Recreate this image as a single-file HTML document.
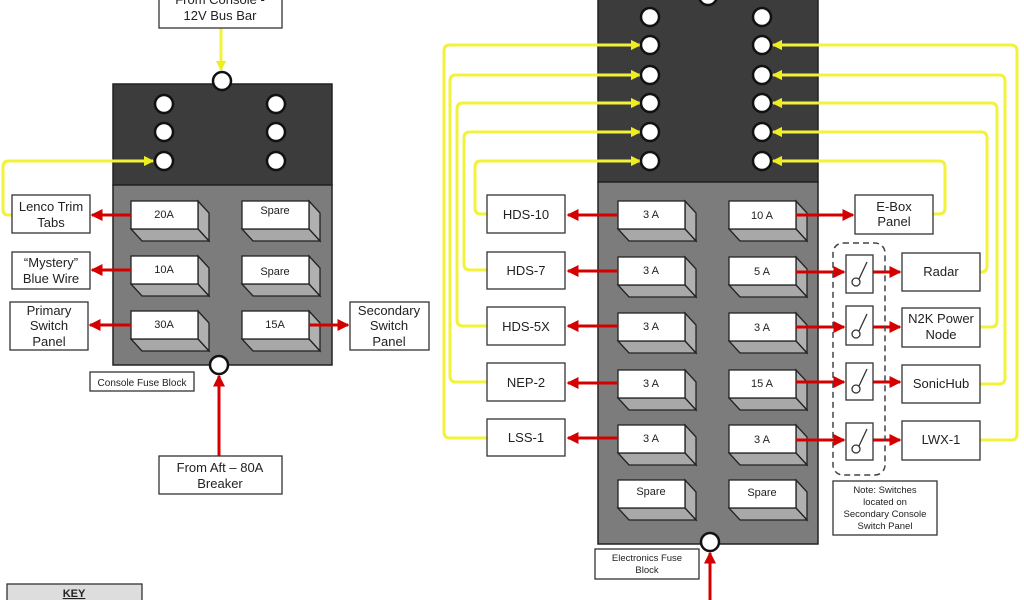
<!DOCTYPE html>
<html><head><meta charset="utf-8"><style>
html,body{margin:0;padding:0;background:#fff;}
svg{display:block;}
text{font-family:"Liberation Sans",Arial,sans-serif;fill:#222;}
</style></head><body>
<svg width="1024" height="600" viewBox="0 0 1024 600" xmlns="http://www.w3.org/2000/svg">
<defs>
<marker id="ra" markerWidth="4" markerHeight="4" refX="3.5" refY="2" orient="auto" markerUnits="strokeWidth"><path d="M0,0 L4,2 L0,4 z" fill="#d40000"/></marker>
<marker id="ya" markerWidth="3.4" markerHeight="3.4" refX="3" refY="1.7" orient="auto" markerUnits="strokeWidth"><path d="M0,0 L3.4,1.7 L0,3.4 z" fill="#eeee20"/></marker>
<g id="fuse"><polygon points="67,0 78,12 78,40 67,28" fill="#b0b0b0" stroke="#222" stroke-width="1.3"/><polygon points="0,28 67,28 78,40 11,40" fill="#a8a8a8" stroke="#222" stroke-width="1.3"/><rect x="0" y="0" width="67" height="28" fill="#fff" stroke="#222" stroke-width="1.3"/></g>
</defs>
<!-- panels -->
<rect x="113" y="84" width="219" height="101" fill="#3c3c3c" stroke="#222" stroke-width="1.5"/>
<rect x="113" y="185" width="219" height="180" fill="#7c7c7c" stroke="#222" stroke-width="1.5"/>
<rect x="598" y="-5" width="220" height="187" fill="#3c3c3c" stroke="#222" stroke-width="1.5"/>
<rect x="598" y="182" width="220" height="362" fill="#7c7c7c" stroke="#222" stroke-width="1.5"/>
<g stroke="#f2f23a" stroke-width="3" fill="none">
<path d="M221,28 V70" marker-end="url(#ya)"/>
<path d="M12,215 H8 Q3,215 3,209 V167 Q3,161 9,161 H153" marker-end="url(#ya)"/>
<path d="M487,438 H450 Q444,438 444,432 V51 Q444,45 450,45 H640" marker-end="url(#ya)"/>
<path d="M487,382 H456 Q450,382 450,376 V81 Q450,75 456,75 H640" marker-end="url(#ya)"/>
<path d="M487,326 H463 Q457,326 457,320 V109 Q457,103 463,103 H640" marker-end="url(#ya)"/>
<path d="M487,270 H470 Q464,270 464,264 V138 Q464,132 470,132 H640" marker-end="url(#ya)"/>
<path d="M487,214 H481 Q475,214 475,208 V167 Q475,161 481,161 H640" marker-end="url(#ya)"/>
<path d="M933,214 H939 Q945,214 945,208 V167 Q945,161 939,161 H773" marker-end="url(#ya)"/>
<path d="M980,272 H981 Q987,272 987,266 V138 Q987,132 981,132 H773" marker-end="url(#ya)"/>
<path d="M980,327 H991 Q997,327 997,321 V109 Q997,103 991,103 H773" marker-end="url(#ya)"/>
<path d="M980,384 H999 Q1005,384 1005,378 V81 Q1005,75 999,75 H773" marker-end="url(#ya)"/>
<path d="M980,440 H1011 Q1017,440 1017,434 V51 Q1017,45 1011,45 H773" marker-end="url(#ya)"/>
</g>
<!-- LEFT BLOCK -->
<g fill="#fff" stroke="#111" stroke-width="2.5">
<circle cx="164" cy="104" r="9"/><circle cx="164" cy="132" r="9"/><circle cx="164" cy="161" r="9"/>
<circle cx="276" cy="104" r="9"/><circle cx="276" cy="132" r="9"/><circle cx="276" cy="161" r="9"/>
<circle cx="222" cy="81" r="9"/><circle cx="219" cy="365" r="9"/>
</g>
<use href="#fuse" x="131" y="201"/><use href="#fuse" x="131" y="256"/><use href="#fuse" x="131" y="311"/>
<use href="#fuse" x="242" y="201"/><use href="#fuse" x="242" y="256"/><use href="#fuse" x="242" y="311"/>
<g font-size="11" text-anchor="middle">
<text x="164" y="218">20A</text><text x="164" y="273">10A</text><text x="164" y="328">30A</text>
<text x="275" y="214">Spare</text><text x="275" y="275">Spare</text><text x="275" y="328">15A</text>
</g>
<g stroke="#d40000" stroke-width="3" fill="none">
<path d="M131,215 H92" marker-end="url(#ra)"/>
<path d="M131,270 H92" marker-end="url(#ra)"/>
<path d="M131,325 H90" marker-end="url(#ra)"/>
<path d="M309,325 H348" marker-end="url(#ra)"/>
<path d="M219,456 V376" marker-end="url(#ra)"/>
</g>
<g fill="#fff" stroke="#333" stroke-width="1.3">
<rect x="159" y="-10" width="123" height="38"/>
<rect x="12" y="195" width="78" height="38"/>
<rect x="12" y="252" width="78" height="37"/>
<rect x="10" y="302" width="78" height="48"/>
<rect x="350" y="302" width="79" height="48"/>
<rect x="90" y="372" width="104" height="19"/>
<rect x="159" y="456" width="123" height="38"/>
<rect x="7" y="584" width="135" height="20" fill="#ddd"/>
</g>
<g font-size="13" text-anchor="middle">
<text x="220" y="4">From Console -</text><text x="220" y="20">12V Bus Bar</text>
<text x="51" y="211">Lenco Trim</text><text x="51" y="227">Tabs</text>
<text x="51" y="267">“Mystery”</text><text x="51" y="283">Blue Wire</text>
<text x="49" y="315">Primary</text><text x="49" y="330">Switch</text><text x="49" y="346">Panel</text>
<text x="389" y="315">Secondary</text><text x="389" y="330">Switch</text><text x="389" y="346">Panel</text>
<text x="220" y="472">From Aft – 80A</text><text x="220" y="488">Breaker</text>
<text x="142" y="386" font-size="10">Console Fuse Block</text>
<text x="74" y="597" font-size="11" font-weight="bold" text-decoration="underline">KEY</text>
</g>
<!-- RIGHT BLOCK -->
<g fill="#fff" stroke="#111" stroke-width="2.5">
<circle cx="650" cy="17" r="9"/><circle cx="650" cy="45" r="9"/><circle cx="650" cy="75" r="9"/><circle cx="650" cy="103" r="9"/><circle cx="650" cy="132" r="9"/><circle cx="650" cy="161" r="9"/>
<circle cx="762" cy="17" r="9"/><circle cx="762" cy="45" r="9"/><circle cx="762" cy="75" r="9"/><circle cx="762" cy="103" r="9"/><circle cx="762" cy="132" r="9"/><circle cx="762" cy="161" r="9"/>
<circle cx="708" cy="-4" r="9"/><circle cx="710" cy="542" r="9"/>
</g>
<use href="#fuse" x="618" y="201"/><use href="#fuse" x="618" y="257"/><use href="#fuse" x="618" y="313"/><use href="#fuse" x="618" y="370"/><use href="#fuse" x="618" y="425"/><use href="#fuse" x="618" y="480"/>
<use href="#fuse" x="729" y="201"/><use href="#fuse" x="729" y="257"/><use href="#fuse" x="729" y="313"/><use href="#fuse" x="729" y="370"/><use href="#fuse" x="729" y="425"/><use href="#fuse" x="729" y="480"/>
<g font-size="11" text-anchor="middle">
<text x="651" y="218">3 A</text><text x="651" y="274">3 A</text><text x="651" y="330">3 A</text><text x="651" y="387">3 A</text><text x="651" y="442">3 A</text><text x="651" y="495">Spare</text>
<text x="762" y="219">10 A</text><text x="762" y="275">5 A</text><text x="762" y="331">3 A</text><text x="762" y="387">15 A</text><text x="762" y="443">3 A</text><text x="762" y="496">Spare</text>
</g>
<g stroke="#d40000" stroke-width="3" fill="none">
<path d="M618,215 H568" marker-end="url(#ra)"/>
<path d="M618,271 H568" marker-end="url(#ra)"/>
<path d="M618,326 H568" marker-end="url(#ra)"/>
<path d="M618,383 H568" marker-end="url(#ra)"/>
<path d="M618,438 H568" marker-end="url(#ra)"/>
<path d="M796,215 H853" marker-end="url(#ra)"/>
<path d="M796,272 H844" marker-end="url(#ra)"/><path d="M873,272 H900" marker-end="url(#ra)"/>
<path d="M796,327 H844" marker-end="url(#ra)"/><path d="M873,327 H900" marker-end="url(#ra)"/>
<path d="M796,382 H844" marker-end="url(#ra)"/><path d="M873,382 H900" marker-end="url(#ra)"/>
<path d="M796,440 H844" marker-end="url(#ra)"/><path d="M873,440 H900" marker-end="url(#ra)"/>
<path d="M710,600 V553" marker-end="url(#ra)"/>
</g>
<rect x="833" y="243" width="52" height="232" rx="10" fill="none" stroke="#444" stroke-width="1.5" stroke-dasharray="6,4"/>
<g fill="#fff" stroke="#333" stroke-width="1.3">
<rect x="487" y="195" width="78" height="38"/><rect x="487" y="252" width="78" height="37"/><rect x="487" y="307" width="78" height="38"/><rect x="487" y="363" width="78" height="38"/><rect x="487" y="419" width="78" height="37"/>
<rect x="855" y="195" width="78" height="39"/>
<rect x="902" y="253" width="78" height="38"/><rect x="902" y="308" width="78" height="39"/><rect x="902" y="365" width="78" height="38"/><rect x="902" y="421" width="78" height="39"/>
<rect x="846" y="255" width="27" height="38"/><rect x="846" y="306" width="27" height="39"/><rect x="846" y="363" width="27" height="37"/><rect x="846" y="423" width="27" height="37"/>
<rect x="833" y="481" width="104" height="54"/>
<rect x="595" y="549" width="104" height="30"/>
</g>
<g stroke="#333" stroke-width="1.3" fill="none">
<circle cx="856" cy="282" r="4"/><path d="M859,279 L867,262"/>
<circle cx="856" cy="334" r="4"/><path d="M859,331 L867,314"/>
<circle cx="856" cy="389" r="4"/><path d="M859,386 L867,369"/>
<circle cx="856" cy="449" r="4"/><path d="M859,446 L867,429"/>
</g>
<g font-size="13" text-anchor="middle">
<text x="526" y="219">HDS-10</text><text x="526" y="275">HDS-7</text><text x="526" y="331">HDS-5X</text><text x="526" y="387">NEP-2</text><text x="526" y="442">LSS-1</text>
<text x="894" y="211">E-Box</text><text x="894" y="226">Panel</text>
<text x="941" y="276">Radar</text><text x="941" y="323">N2K Power</text><text x="941" y="339">Node</text><text x="941" y="388">SonicHub</text><text x="941" y="444">LWX-1</text>
</g>
<g font-size="9.5" text-anchor="middle">
<text x="885" y="493">Note: Switches</text><text x="885" y="505">located on</text><text x="885" y="517">Secondary Console</text><text x="885" y="529">Switch Panel</text>
<text x="647" y="561">Electronics Fuse</text><text x="647" y="573">Block</text>
</g>
</svg>
</body></html>
